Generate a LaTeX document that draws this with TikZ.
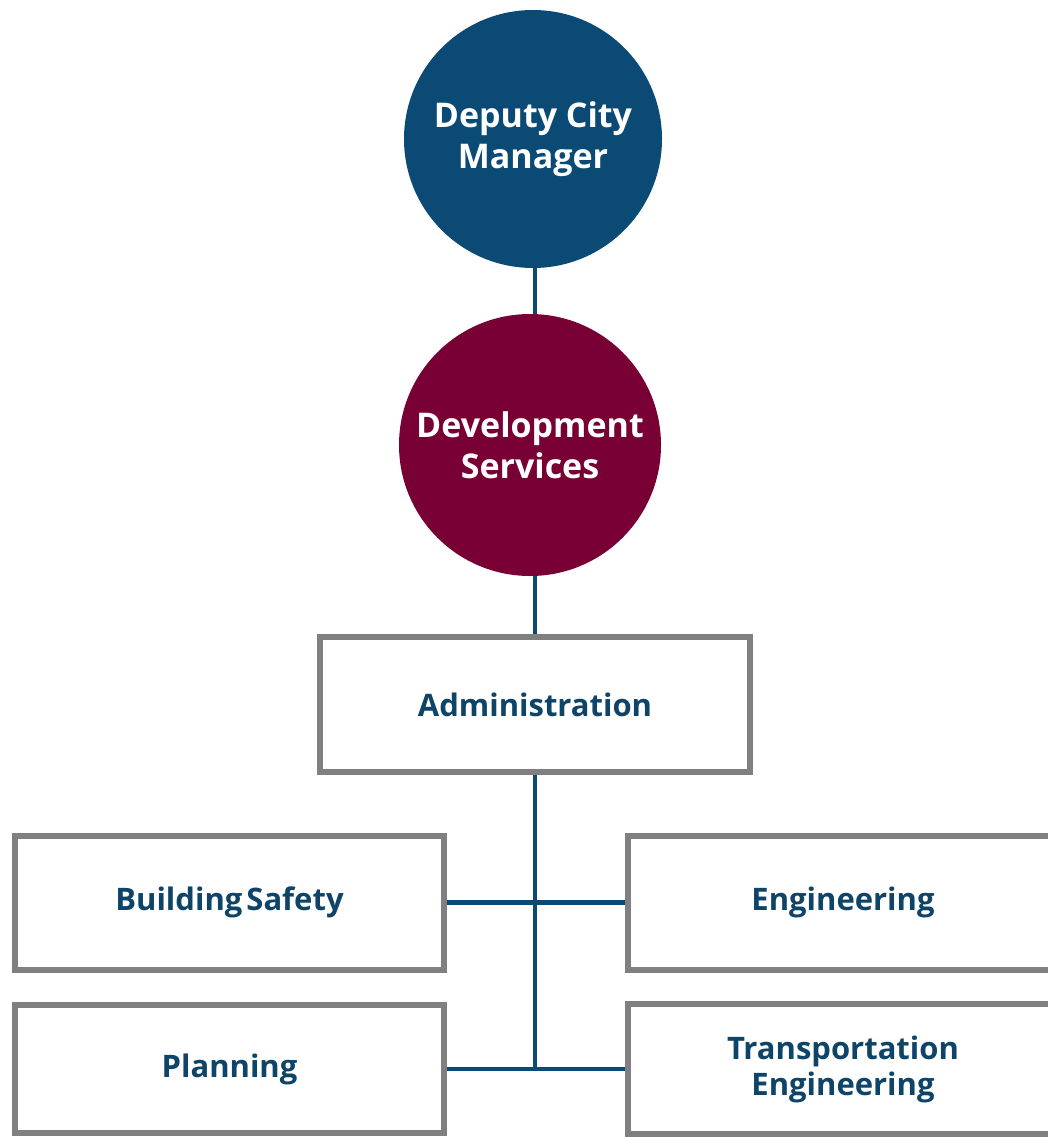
\documentclass[tikz,border=0pt]{standalone}
\usepackage{fontspec}
\setmainfont{Open Sans}
\usetikzlibrary{calc}
\definecolor{navy}{HTML}{0B4A75}
\definecolor{maroon}{HTML}{780035}
\definecolor{txtblue}{HTML}{0E4468}
\definecolor{boxgray}{HTML}{808080}
\tikzset{
  circ/.style={circle, minimum size=#1, inner sep=0pt, text=white, align=center,
    font=\fontsize{34}{41}\selectfont\bfseries},
  unitbox/.style={rectangle, draw=boxgray, line width=6pt, fill=white, inner sep=0pt,
    text=txtblue, align=center, font=\fontsize{31}{36}\selectfont\bfseries},
  conn/.style={draw=navy, line width=4.5pt}
}
\begin{document}
\begin{tikzpicture}[x=1pt,y=-1pt]
\useasboundingbox (0,0) rectangle (1048,1137);
\fill[white] (0,0) rectangle (1048,1137);
% connectors first
\coordinate (t1) at (535,139);
\coordinate (t2) at (535,445);
\coordinate (t3) at (535,703);
\coordinate (tb) at (535,1069);
\draw[conn] (t1) -- (t2);
\draw[conn] (t2) -- (t3);
% nodes
\node[circ=258pt, fill=navy] (dcm) at (533,139) {Deputy City\\Manager};
\node[circ=262pt, fill=maroon] (ds) at (530,445) {Development\\Services};
\node[unitbox, minimum width=430pt, minimum height=135pt] (adm) at (535,704.5) {Administration};
\node[unitbox, minimum width=429pt, minimum height=134pt] (bs) at (229.5,902.5) {Building\hspace{-4pt} Safety};
\node[unitbox, minimum width=429pt, minimum height=128pt] (pl) at (229.5,1069) {Planning};
\node[unitbox, minimum width=430pt, minimum height=134pt] (en) at (843,902.5) {Engineering};
\node[unitbox, minimum width=430pt, minimum height=130pt] (tr) at (843,1069) {Transportation\\Engineering};
% tree connectors
\coordinate (tr0) at (adm.south -| t3);
\draw[conn] (tr0) -- (tb);
\draw[conn] (bs.east) -- (en.west);
\draw[conn] (pl.east) -- (tb) -- (tr.west);
\end{tikzpicture}
\end{document}
